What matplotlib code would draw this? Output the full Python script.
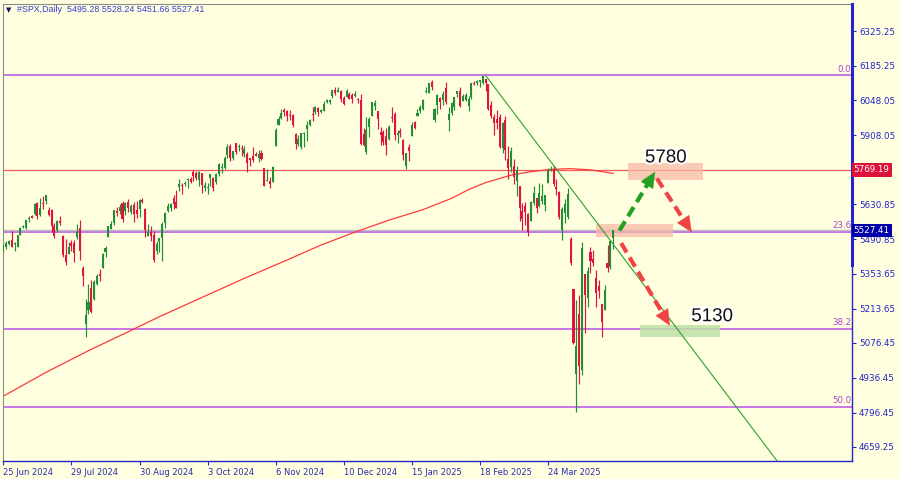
import matplotlib
matplotlib.use("Agg")
import matplotlib.pyplot as plt
from matplotlib.patches import Rectangle, FancyArrowPatch
import matplotlib.patheffects as pe
import numpy as np

# daily bars, 25 Jun 2024 .. 25 Apr 2025 (one row of each list per month)
opens = [
    5460, 5460, 5473, 5488,
    5471, 5461, 5507, 5540, 5537, 5572, 5584, 5591, 5635, 5590, 5638, 5644, 5610, 5608, 5543, 5528, 5566, 5505, 5429, 5433, 5477, 5478, 5499,
    5537, 5376, 5151, 5206, 5294, 5252, 5311, 5352, 5376, 5442, 5501, 5531, 5557, 5603, 5604, 5637, 5603, 5640, 5602, 5629, 5607, 5613,
    5650, 5612, 5506, 5521, 5507, 5443, 5483, 5496, 5558, 5604, 5616, 5655, 5641, 5702, 5709, 5711, 5727, 5733, 5762, 5755, 5727,
    5757, 5698, 5698, 5737, 5737, 5719, 5751, 5778, 5775, 5829, 5866, 5817, 5875, 5859, 5857, 5833, 5834, 5816, 5826, 5833, 5816, 5835, 5775,
    5723, 5725, 5722, 5864, 5947, 5976, 6009, 6004, 5986, 5990, 5912, 5874, 5860, 5914, 5932, 5948, 5992, 6001, 6015, 6000, 6003,
    6040, 6042, 6063, 6089, 6081, 6083, 6057, 6060, 6074, 6068, 6063, 6053, 6048, 5913, 5842, 5941, 5984, 6024, 6006, 5920, 5920,
    5903, 5892, 5982, 5994, 5910, 5925, 5890, 5783, 5859, 5906, 5960, 5983, 6005, 6014, 6082, 6076, 6121, 5969, 6027, 6058, 6050, 6097,
    5969, 5998, 6021, 6073, 6083, 6046, 6050, 6026, 6061, 6116, 6115, 6122, 6117, 6134, 6114, 6027, 5982, 5971, 5982, 5857,
    5968, 5812, 5781, 5786, 5726, 5705, 5604, 5624, 5594, 5564, 5635, 5655, 5623, 5646, 5630, 5718, 5775, 5771, 5700, 5679, 5527,
    5597, 5581, 5492, 5292, 4953, 5193, 4966, 5353, 5256, 5441, 5411, 5335, 5305, 5232, 5207, 5395, 5381, 5495.28,
]
highs = [
    5472, 5483, 5490, 5524,
    5479, 5510, 5539, 5548, 5570, 5583, 5590, 5635, 5642, 5655, 5666, 5669, 5622, 5614, 5557, 5570, 5586, 5508, 5492, 5480, 5487, 5489, 5551,
    5567, 5383, 5250, 5312, 5330, 5327, 5351, 5371, 5436, 5464, 5546, 5564, 5608, 5620, 5632, 5643, 5642, 5651, 5631, 5639, 5646, 5651,
    5655, 5616, 5552, 5546, 5523, 5484, 5497, 5560, 5600, 5636, 5637, 5670, 5690, 5733, 5716, 5725, 5735, 5741, 5767, 5765, 5765,
    5758, 5720, 5718, 5753, 5739, 5757, 5796, 5796, 5823, 5871, 5871, 5845, 5878, 5872, 5867, 5863, 5842, 5817, 5862, 5842, 5847, 5850, 5775,
    5772, 5742, 5784, 5936, 5983, 6013, 6018, 6010, 6009, 5994, 5915, 5909, 5917, 5920, 5963, 5972, 6021, 6025, 6020, 6012, 6045,
    6053, 6052, 6089, 6099, 6099, 6088, 6065, 6092, 6080, 6078, 6085, 6057, 6071, 5936, 5982, 5979, 6040, 6049, 6006, 5940, 5929,
    5935, 5950, 6022, 6001, 5928, 5935, 5891, 5838, 5871, 5960, 5964, 6012, 6030, 6051, 6101, 6119, 6128, 6018, 6074, 6062, 6086, 6120,
    6022, 6042, 6062, 6084, 6101, 6074, 6076, 6065, 6116, 6127, 6130, 6130, 6147, 6134, 6114, 6044, 5992, 6009, 5994, 5959,
    5986, 5865, 5860, 5813, 5783, 5705, 5636, 5642, 5598, 5645, 5704, 5655, 5716, 5711, 5670, 5775, 5786, 5783, 5732, 5685, 5620,
    5651, 5696, 5500, 5292, 5246, 5267, 5481, 5353, 5381, 5460, 5450, 5368, 5329, 5233, 5309, 5470, 5489, 5528.24,
]
lows = [
    5446, 5451, 5467, 5459,
    5446, 5459, 5507, 5535, 5531, 5562, 5575, 5587, 5574, 5583, 5614, 5631, 5584, 5522, 5497, 5519, 5550, 5419, 5390, 5431, 5444, 5401, 5494,
    5410, 5302, 5100, 5193, 5195, 5249, 5306, 5324, 5376, 5421, 5501, 5531, 5550, 5585, 5592, 5560, 5590, 5602, 5594, 5561, 5575, 5581,
    5636, 5501, 5504, 5486, 5402, 5434, 5441, 5406, 5535, 5599, 5603, 5614, 5615, 5686, 5674, 5706, 5698, 5717, 5723, 5730, 5704,
    5675, 5684, 5674, 5704, 5684, 5712, 5745, 5756, 5774, 5815, 5804, 5807, 5834, 5846, 5824, 5821, 5762, 5784, 5799, 5823, 5802, 5810, 5703,
    5723, 5697, 5722, 5864, 5947, 5973, 5986, 5965, 5969, 5942, 5854, 5866, 5853, 5860, 5884, 5944, 5963, 5992, 5984, 5995, 6003,
    6035, 6033, 6058, 6070, 6079, 6041, 6029, 6060, 6051, 6035, 6060, 6035, 5867, 5866, 5832, 5902, 5983, 6007, 5932, 5869, 5869,
    5829, 5888, 5960, 5890, 5875, 5900, 5809, 5771, 5805, 5906, 5934, 5983, 5995, 6007, 6077, 6075, 6088, 5962, 5994, 6012, 6027, 6031,
    5923, 5990, 6007, 6059, 6020, 6045, 6043, 6003, 6051, 6107, 6110, 6100, 6111, 6084, 6009, 5977, 5908, 5933, 5858, 5837,
    5810, 5733, 5762, 5711, 5666, 5565, 5529, 5547, 5505, 5564, 5629, 5597, 5622, 5632, 5603, 5718, 5763, 5703, 5670, 5572, 5488,
    5558, 5571, 5390, 5070, 4800, 4910, 4949, 5115, 5220, 5358, 5386, 5220, 5256, 5101, 5207, 5360, 5371, 5451.66,
]
closes = [
    5469, 5478, 5483, 5460,
    5475, 5509, 5537, 5545, 5567, 5572, 5577, 5633, 5585, 5615, 5631, 5667, 5589, 5544, 5505, 5564, 5555, 5427, 5399, 5459, 5463, 5436, 5522,
    5446, 5346, 5186, 5240, 5199, 5319, 5344, 5344, 5434, 5455, 5543, 5554, 5608, 5597, 5621, 5571, 5635, 5616, 5625, 5592, 5591, 5648,
    5640, 5529, 5520, 5503, 5408, 5471, 5496, 5554, 5596, 5626, 5634, 5634, 5618, 5713, 5703, 5718, 5732, 5722, 5745, 5738, 5762,
    5709, 5709, 5700, 5751, 5696, 5751, 5792, 5780, 5815, 5859, 5815, 5843, 5841, 5864, 5853, 5851, 5797, 5809, 5808, 5823, 5832, 5813, 5705,
    5728, 5712, 5782, 5929, 5973, 5996, 6001, 5984, 5985, 5949, 5871, 5894, 5917, 5917, 5949, 5969, 5987, 6021, 5999, 6008, 6032,
    6047, 6050, 6087, 6075, 6090, 6053, 6034, 6084, 6051, 6051, 6074, 6050, 5872, 5867, 5930, 5974, 6040, 6037, 5971, 5907, 5882,
    5869, 5942, 5975, 5909, 5918, 5915, 5827, 5836, 5843, 5950, 5937, 5997, 6020, 6049, 6086, 6119, 6101, 6012, 6068, 6039, 6071, 6040,
    5994, 6037, 6061, 6083, 6026, 6066, 6068, 6052, 6115, 6114, 6125, 6129, 6144, 6117, 6013, 5983, 5955, 5956, 5861, 5955,
    5850, 5778, 5843, 5739, 5770, 5615, 5572, 5599, 5522, 5639, 5675, 5615, 5675, 5663, 5668, 5768, 5777, 5712, 5693, 5581, 5612,
    5633, 5671, 5397, 5074, 5062, 4982, 5457, 5268, 5363, 5406, 5397, 5276, 5283, 5158, 5288, 5376, 5485, 5527.41,
]

date_labels = ["25 Jun 2024", "29 Jul 2024", "30 Aug 2024", "3 Oct 2024", "6 Nov 2024",
               "10 Dec 2024", "15 Jan 2025", "18 Feb 2025", "24 Mar 2025"]
date_label_bars = [0, 24, 48, 72, 96, 120, 144, 168, 192]

price_ticks = [6325.25, 6185.25, 6048.05, 5908.05, 5769.0, 5630.85, 5490.85,
               5353.65, 5213.65, 5076.45, 4936.45, 4796.45, 4659.25]

# 200-day moving average
ma_bars = [0, 15, 30, 45, 55, 70, 85, 100, 112, 124, 136, 148, 158, 164, 170, 179, 186, 193, 200, 207, 215]
ma_values = [4863, 4958, 5045, 5126, 5181, 5258, 5335, 5408, 5468, 5520, 5568, 5610, 5655, 5690, 5718, 5748, 5762, 5771, 5774, 5769, 5755]

fib_levels = [6147.43, 5520.65, 5132.93, 4819.50]
fib_names = ["0.0", "23.6", "38.2", "50.0"]
resistance = 5769.19
last_price = 5527.41
header = "#SPX,Daily  5495.28 5528.24 5451.66 5527.41"

trend_bars = [170, 273]
trend_prices = [6147.43, 4600]

BG = "#ffffe0"
BULL = "#1f8f32"
BEAR = "#e0153f"
AXC = "#2424c8"
FIBC = "#c46ae8"
YMIN, YMAX = 4603.1, 6433.4

fig = plt.figure(figsize=(9, 4.79), dpi=100, facecolor=BG)
ax = fig.add_axes([3 / 900, 18 / 479, 849 / 900, 457 / 479])
ax.set_facecolor(BG)
ax.set_xlim(-0.14, 299.2)
ax.set_ylim(YMIN, YMAX)

o = np.array(opens)
h = np.array(highs)
l = np.array(lows)
c = np.array(closes)
x = np.arange(len(c))
up = c >= o
col = np.where(up, BULL, BEAR)

# reference lines
for lev, name in zip(fib_levels, fib_names):
    ax.axhline(lev, color=FIBC, lw=1.3, zorder=1)
    ax.text(299.0, lev + 6, name, color="#a844d0", fontsize=6.2, ha="right", va="bottom")
ax.axhline(last_price, color="#bdbdbd", lw=1.0, zorder=1)
ax.axhline(resistance, color="#f05a5a", lw=0.9, zorder=1)

# moving average and trend line
ax.plot(ma_bars, ma_values, color="#ff3a3a", lw=0.9, zorder=2)
ax.plot(trend_bars, trend_prices, color="#2e9e2e", lw=0.8, zorder=4)

# candles
ax.vlines(x, l, h, colors=col, lw=0.85, zorder=3)
body_lo = np.minimum(o, c)
body_h = np.maximum(np.abs(c - o), 3)
ax.bar(x, body_h, bottom=body_lo, width=0.72, color=col, lw=0, zorder=3)

# target zones
ax.add_patch(Rectangle((220.2, 5728), 26.5, 68, facecolor="#f7b9a6", alpha=0.75, lw=0, zorder=2))
ax.add_patch(Rectangle((209.0, 5500), 27.0, 52, facecolor="#f7b9a6", alpha=0.75, lw=0, zorder=2))
ax.add_patch(Rectangle((224.5, 5099), 28.2, 47, facecolor="#bfe0a8", alpha=0.85, lw=0, zorder=2))

halo = [pe.withStroke(linewidth=3, foreground="white")]
ax.text(233.6, 5817, "5780", fontsize=13.5, family="Liberation Sans", color="#111111",
        ha="center", va="center", path_effects=halo, zorder=6)
ax.text(249.9, 5181, "5130", fontsize=13.5, family="Liberation Sans", color="#111111",
        ha="center", va="center", path_effects=halo, zorder=6)


def dashed_arrow(start, tip, color):
    p0 = ax.transData.transform(start)
    p1 = ax.transData.transform(tip)
    v = p1 - p0
    v = v / np.hypot(*v)
    base = ax.transData.inverted().transform(p1 - v * 13)
    near = ax.transData.inverted().transform(p1 - v * 2)
    ax.plot([start[0], base[0]], [start[1], base[1]], color=color, lw=3.0,
            dashes=(2.6, 1.4), dash_capstyle="butt", zorder=5)
    ax.add_patch(FancyArrowPatch(tuple(near), tip, arrowstyle="-|>,head_length=0.55,head_width=0.25",
                                 mutation_scale=20, color=color, lw=0.3, shrinkA=0, shrinkB=0, zorder=5))


dashed_arrow((217.2, 5526), (229.8, 5762), "#22a022")
dashed_arrow((230.4, 5735), (242.7, 5519), "#f04444")
dashed_arrow((217.8, 5476), (235.0, 5145), "#f04444")

# axes styling
for side in ["left", "top"]:
    ax.spines[side].set_color("#8a8a8a")
    ax.spines[side].set_linewidth(0.8)
for side in ["right", "bottom"]:
    ax.spines[side].set_color(AXC)
    ax.spines[side].set_linewidth(1.0)
ax.plot([299.2, 299.2], [5388, YMAX], color=AXC, lw=2.2, clip_on=False, zorder=7)

ax.yaxis.tick_right()
ax.set_yticks(price_ticks)
ax.set_yticklabels(["" if abs(p - resistance) < 5 else f"{p:.2f}" for p in price_ticks])
ax.tick_params(axis="y", colors=AXC, labelsize=6.3, length=3, width=0.8, pad=2)
ax.set_xticks(date_label_bars)
ax.set_xticklabels(date_labels, ha="left")
ax.tick_params(axis="x", colors=AXC, labelsize=6.0, length=3, width=0.8, pad=2)
for lab in ax.get_xticklabels():
    lab.set_color("#2b2bb0")

# price labels on the scale
for val, face in [(resistance, "#dc143c"), (last_price, "#0000a8")]:
    ax.text(1.002, (val - YMIN) / (YMAX - YMIN), f"{val:.2f}", transform=ax.transAxes,
            fontsize=6.3, color="white", va="center", ha="left",
            bbox=dict(boxstyle="square,pad=0.25", facecolor=face, edgecolor="none"), zorder=8, clip_on=False)

fig.text(6 / 900, 1 - 10 / 479, "\u25bc", fontsize=5, color="#101060", va="center")
fig.text(17 / 900, 1 - 10 / 479, header, fontsize=6.4, family="Liberation Sans", color="#3a3ad0", va="center")

fig.savefig("out.png", dpi=100, facecolor=BG)
